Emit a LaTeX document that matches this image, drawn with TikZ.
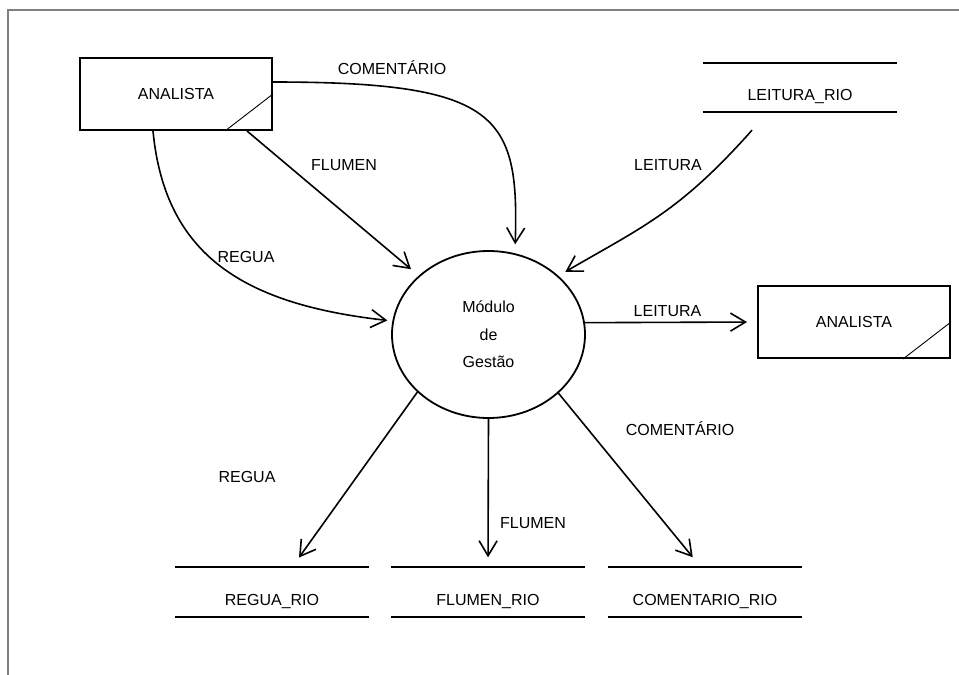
\documentclass[tikz,border=0pt]{standalone}
\usepackage{fontspec}
\setmainfont{Liberation Sans}
\usetikzlibrary{arrows.meta,shapes.geometric}
\definecolor{framegray}{RGB}{128,128,128}
\begin{document}
\begin{tikzpicture}[x=1pt,y=-1pt,
  every node/.style={font=\fontsize{16}{19}\selectfont},
  txt/.style={inner sep=0pt, text height=11.5pt, text depth=0pt},
  entity/.style={draw, line width=2pt, minimum width=192pt, minimum height=72pt,
    inner sep=0pt, text height=11.5pt, text depth=0pt,
    append after command={([xshift=-48pt]\tikzlastnode.south east)
      edge[line width=0.9pt] ([yshift=37pt]\tikzlastnode.south east)}},
  store/.style={minimum width=194pt, minimum height=49pt, inner sep=0pt,
    text height=26.5pt, text depth=0pt,
    append after command={(\tikzlastnode.north west) edge[line width=2pt] (\tikzlastnode.north east)
      (\tikzlastnode.south west) edge[line width=2pt] (\tikzlastnode.south east)}},
  process/.style={ellipse, draw, line width=1.8pt, minimum width=193pt,
    minimum height=167pt, inner sep=0pt, align=center,
    font=\fontsize{16}{27.5}\selectfont},
  flow/.style={line width=1.6pt, -{Straight Barb[length=15pt,width=18pt]}}
]
\useasboundingbox (0,0) rectangle (959,675);

% page frame
\draw[framegray, line width=1.8pt] (8,675) -- (8,10) -- (959,10);

% external entities, data stores and the process
\node[entity] (A1) at (176,94) {ANALISTA};
\node[entity] (A2) at (854,322) {ANALISTA};
\node[store] (L) at (800,87.5) {LEITURA\_RIO};
\node[store] (RR) at (272,592) {REGUA\_RIO};
\node[store] (FR) at (488,592) {FLUMEN\_RIO};
\node[store] (CR) at (705,592) {COMENTARIO\_RIO};
\node[process] (M) at (488.5,334.5) {Módulo\\de\\Gestão};

% incoming flows
\draw[flow, shorten >=9pt] ([yshift=12pt]A1.east)
  .. controls +(226,0) and +(4.4,-138) .. (M.72);
\draw[flow, shorten >=10pt] ([xshift=71pt]A1.south) -- (M);
\draw[flow, shorten >=5pt] ([xshift=-23pt]A1.south)
  .. controls +(12,125) and +(-148,-16.6) .. (M.172);
\draw[flow, shorten >=8pt] ([xshift=-48pt,yshift=-18pt]L.south)
  .. controls +(-73,82) and +(84.4,-49.2) .. (M.40);

% outgoing flows
\draw[flow, shorten >=10pt] (M.7.5) -- (A2.west);
\draw[flow, shorten >=12pt] (M.219) -- ([xshift=20pt]RR.north);
\draw[flow, shorten >=10pt] (M.south) -- (FR.north);
\draw[flow, shorten >=13pt] (M.320) -- ([xshift=-4pt]CR.north);

% flow labels
\node[txt] (lc1) at (392,69) {COMENTÁRIO};
\node[txt] (lf1) at (344,165) {FLUMEN};
\node[txt] (lr1) at (246,257) {REGUA};
\node[txt] (ll1) at (668,165) {LEITURA};
\node[txt] (ll2) at (667.5,311) {LEITURA};
\node[txt] (lr2) at (247,477) {REGUA};
\node[txt] (lf2) at (533,523) {FLUMEN};
\node[txt] (lc2) at (680,430) {COMENTÁRIO};
\end{tikzpicture}
\end{document}
